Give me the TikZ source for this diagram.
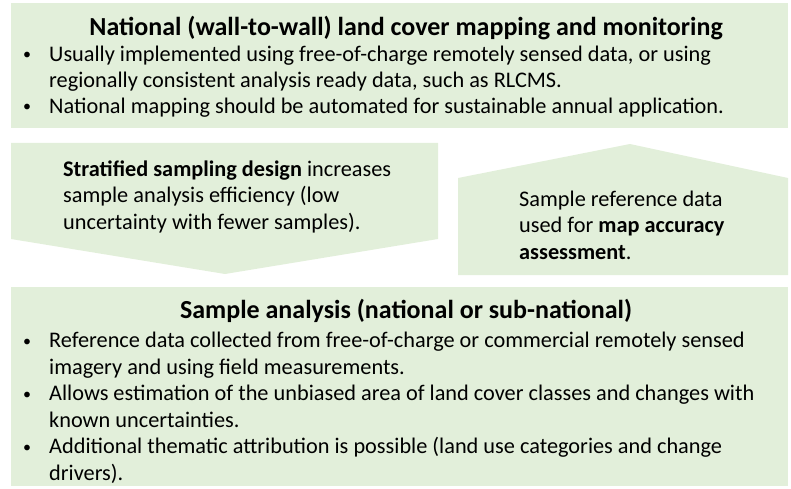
\documentclass[tikz,border=0pt]{standalone}
\usepackage{fontspec}
\setmainfont{Carlito}
\definecolor{boxgreen}{HTML}{E2EFDA}
\begin{document}
\begin{tikzpicture}[x=1pt,y=-1pt]
	\tikzstyle{panel}=[fill=boxgreen,draw=none]
	\tikzstyle{head}=[font=\fontsize{26}{30}\selectfont\bfseries,anchor=base,inner sep=0pt]
	\tikzstyle{txt}=[font=\fontsize{22.3}{26.5}\selectfont,align=left,anchor=base west,inner sep=0pt]
	\tikzstyle{dot}=[font=\fontsize{16}{20}\selectfont,anchor=base,inner sep=0pt]

	\useasboundingbox (0,0) rectangle (791,489);

	% top box
	\path[panel] (11,3) rectangle (788,128);
	\node [head] (nattitle) at (406,36) {National (wall-to-wall) land cover mapping and monitoring};
	\node [dot] (nb1) at (27,60) {\textbullet};
	\node [txt] (nt1) at (49,88) {Usually implemented using free-of-charge remotely sensed data, or using\\regionally consistent analysis ready data, such as RLCMS.};
	\node [dot] (nb2) at (27,112) {\textbullet};
	\node [txt] (nt2) at (49,114) {National mapping should be automated for sustainable annual application.};

	% arrows
	\path[panel] (11,143) -- (438,143) -- (438,239) -- (225,274) -- (11,239) -- cycle;
	\node [txt] (strat) at (63,229) {\textbf{Stratified sampling design} increases\\sample analysis efficiency (low\\uncertainty with fewer samples).};
	\path[panel] (458,275) -- (458,178) -- (630,144) -- (788,178) -- (788,275) -- cycle;
	\node [txt] (accu) at (519,259) {Sample reference data\\used for \textbf{map accuracy}\\\textbf{assessment}.};

	% bottom box
	\path[panel] (11,287) rectangle (788,486);
	\node [head] (samtitle) at (406,318) {Sample analysis (national or sub-national)};
	\node [dot] (sb1) at (27,346) {\textbullet};
	\node [txt] (st1) at (49,374) {Reference data collected from free-of-charge or commercial remotely sensed\\imagery and using field measurements.};
	\node [dot] (sb2) at (27,399) {\textbullet};
	\node [txt] (st2) at (49,427) {Allows estimation of the unbiased area of land cover classes and changes with\\known uncertainties.};
	\node [dot] (sb3) at (27,452) {\textbullet};
	\node [txt] (st3) at (49,480) {Additional thematic attribution is possible (land use categories and change\\drivers).};
\end{tikzpicture}
\end{document}
